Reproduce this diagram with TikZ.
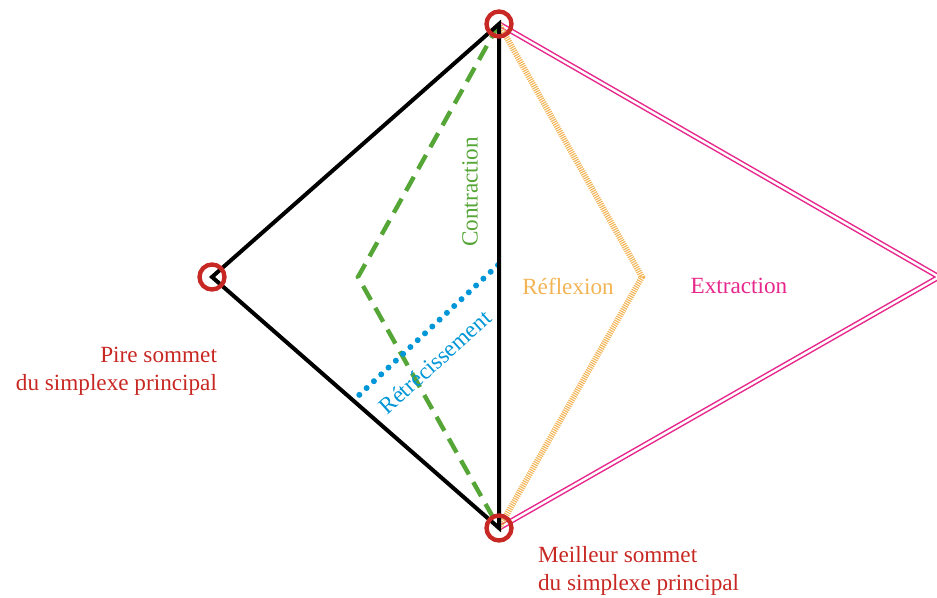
\documentclass[tikz,border=0pt]{standalone}
\usepackage{fontspec}
\setmainfont{Liberation Serif}
\usepackage{tikz}
\usetikzlibrary{calc}
\definecolor{sommetred}{RGB}{200,40,35}
\definecolor{contractgreen}{RGB}{85,165,55}
\definecolor{shrinkblue}{RGB}{0,150,215}
\definecolor{reflorange}{RGB}{242,180,85}
\definecolor{extrapink}{RGB}{230,40,140}

\begin{document}
\begin{tikzpicture}[x=0.5pt, y=-0.5pt, font=\fontsize{11.6}{14}\selectfont,
    sommet/.style={circle, draw=sommetred, line width=2.2pt, minimum size=12.5pt, inner sep=0pt}]
    \useasboundingbox (0,0) rectangle (937,598);
    % simplex and trial points
    \coordinate (T) at (499,24);
    \coordinate (L) at (212,277);
    \coordinate (B) at (499,528);
    \coordinate (C) at (358,277);
    \coordinate (R) at (642,277);
    \coordinate (E) at (939,277);
    \coordinate (S1) at (356,398);
    \coordinate (S2) at (498,265);
    \draw[extrapink, line width=0.75pt, double=white, double distance=1.2pt] (T) -- (E) -- (B);
    \draw[reflorange, line width=3pt, dash pattern=on 0.55pt off 0.55pt] (T) -- (R) -- (B);
    \draw[contractgreen, line width=2.2pt, dash pattern=on 8pt off 4.5pt] (T) -- (C) -- (B);
    \draw[shrinkblue, line width=3pt, line cap=round, dash pattern=on 0pt off 5pt] (S2) -- (S1);
    \draw[line width=2pt] (T) -- (L) -- (B) -- cycle;
    \foreach \v in {T,L,B} \node[sommet] (c\v) at (\v) {};
    \node[contractgreen, rotate=90] (lc) at (470,192) {Contraction};
    \node[reflorange] (lr) at (568,286) {Réflexion};
    \node[extrapink] (le) at (739,286) {Extraction};
    \node[shrinkblue, rotate=42] (ls) at (435,362) {Rétrécissement};
    \node[sommetred, align=right, anchor=east] (lp) at (224,371) {Pire sommet\\du simplexe principal};
    \node[sommetred, align=left, anchor=west] (lm) at (531,571) {Meilleur sommet\\du simplexe principal};
\end{tikzpicture}
\end{document}
